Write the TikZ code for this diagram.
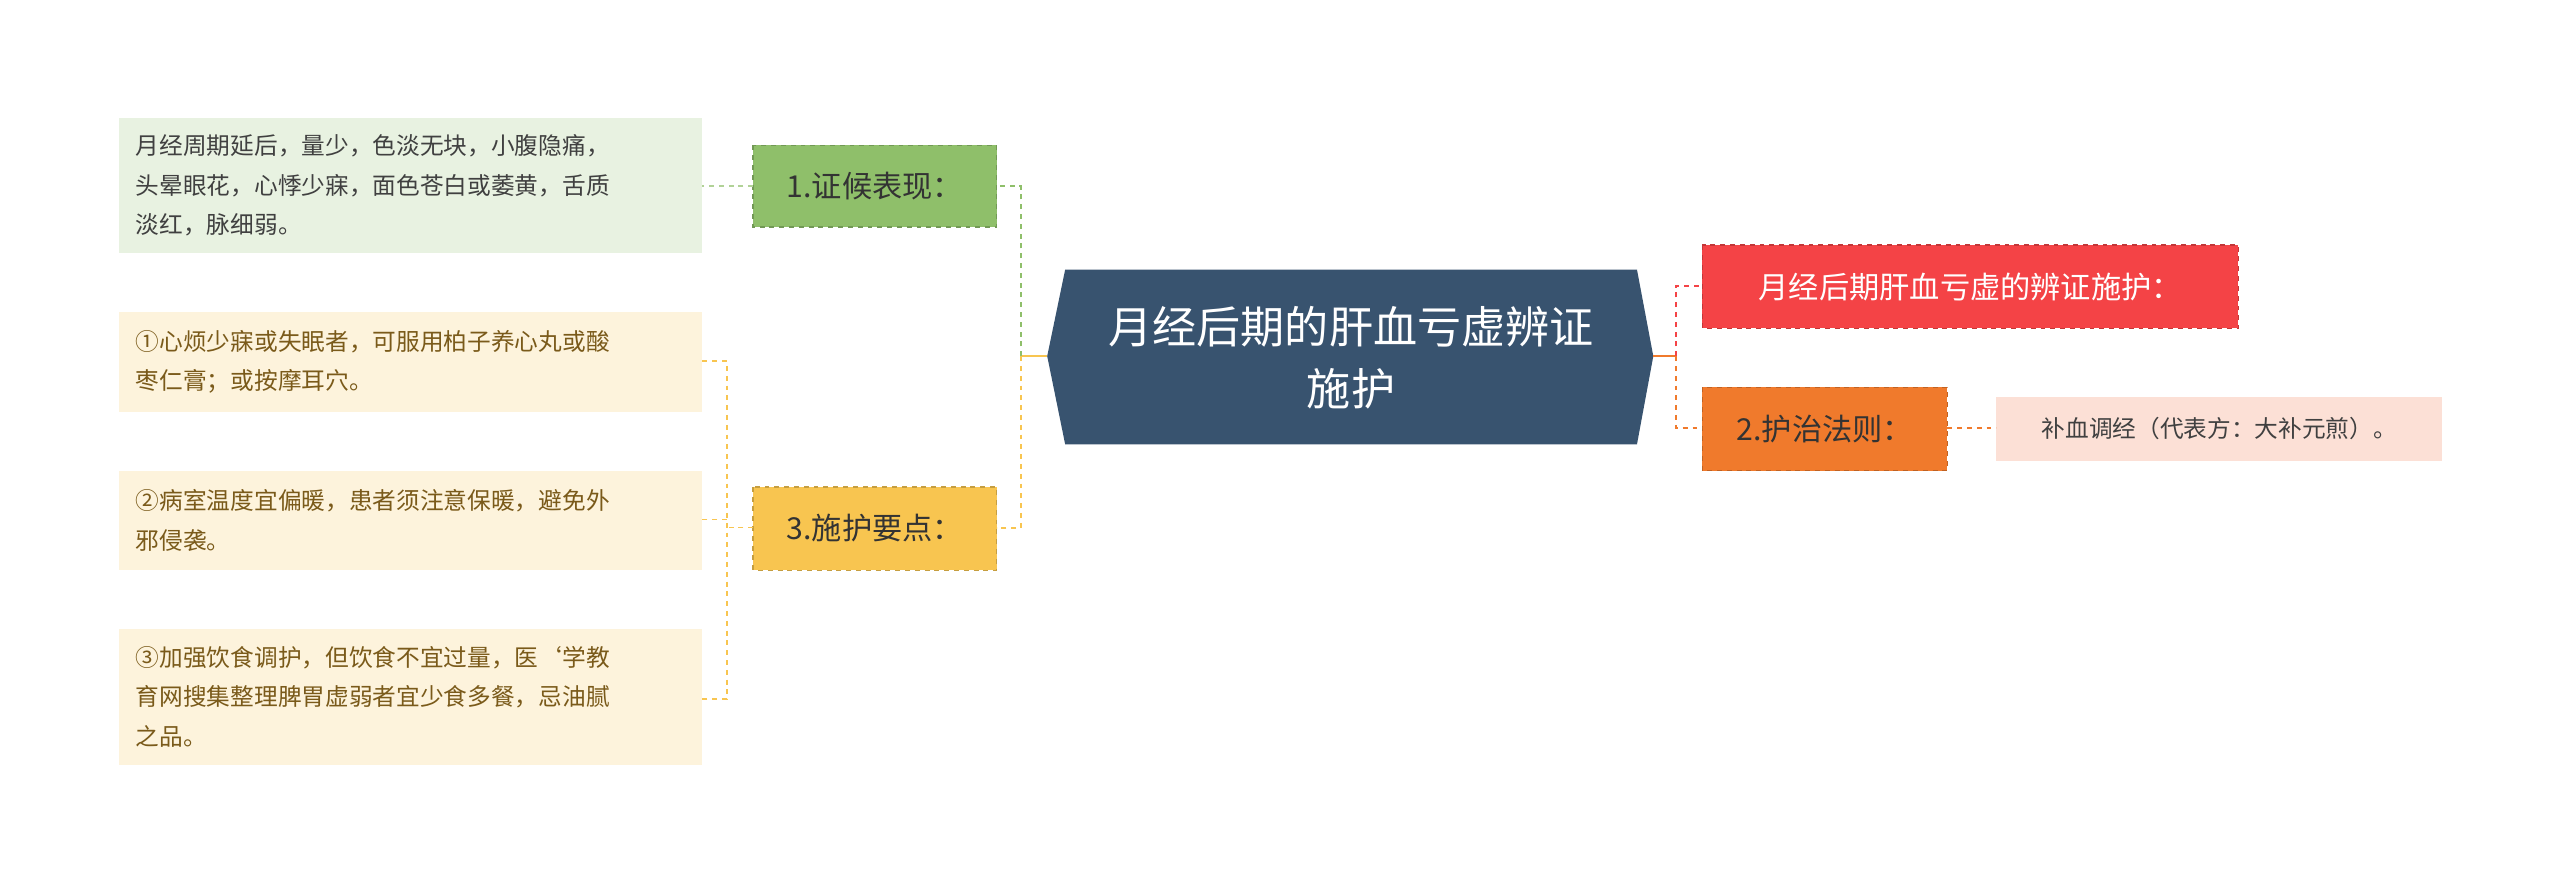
\documentclass[tikz,border=0pt]{standalone}
\usepackage{fontspec}
\setmainfont{Noto Sans CJK SC}
\begin{document}
\begin{tikzpicture}[x=1pt,y=-1pt,
 box/.style={draw,dashed,line width=0.8pt,anchor=north west,inner sep=0pt},
 lvl/.style={font=\fontsize{18.5}{22}\selectfont},
 leaf/.style={font=\fontsize{14.5}{24}\selectfont,align=left,anchor=west,inner sep=0pt},
 con/.style={dashed,line width=1.2pt}]
\useasboundingbox (0,0) rectangle (1567,541);
\definecolor{hex}{HTML}{38536F}
\definecolor{gn}{HTML}{8FBF6A}\definecolor{gnl}{HTML}{E8F2E1}
\definecolor{yl}{HTML}{F8C550}\definecolor{yll}{HTML}{FDF3DC}
\definecolor{rd}{HTML}{F44346}\definecolor{or}{HTML}{F07A2C}\definecolor{orl}{HTML}{FCE0D6}
\definecolor{br}{HTML}{7A5A1A}
% center
\fill[hex] (641,218) -- (652,165) -- (1002,165) -- (1012,218) -- (1002,272) -- (652,272) -- cycle;
\node[text=white,font=\fontsize{27}{38}\selectfont,align=center] (c) at (827,219) {月经后期的肝血亏虚辨证\\施护};
\coordinate (cl) at (641,218); \coordinate (cr) at (1012,218);
% level1
\fill[gn] (461,89) rectangle (610,139); \draw[box,gn!80!black] (461,89) rectangle (610,139);
\node[lvl,text=black!80] (a) at (535.5,114) {1.证候表现：};
\fill[yl] (461,298) rectangle (610,349); \draw[box,yl!80!black] (461,298) rectangle (610,349);
\node[lvl,text=black!80] (b) at (535.5,323.5) {3.施护要点：};
\fill[rd] (1042,150) rectangle (1370,201); \draw[box,rd!80!black] (1042,150) rectangle (1370,201);
\node[lvl,text=white] (r) at (1206,175.5) {月经后期肝血亏虚的辨证施护：};
\fill[or] (1042,237) rectangle (1192,288); \draw[box,or!80!black] (1042,237) rectangle (1192,288);
\node[lvl,text=black!80] (o) at (1117,262.5) {2.护治法则：};
% leaves
\fill[orl] (1222,243) rectangle (1495,282);
\node[font=\fontsize{14.5}{20}\selectfont,text=black!75] (ol) at (1358.5,262.5) {补血调经（代表方：大补元煎）。};
\fill[gnl] (73,72) rectangle (430,155);
\node[leaf,text=black!75] (al) at (83,113.5) {月经周期延后，量少，色淡无块，小腹隐痛，\\头晕眼花，心悸少寐，面色苍白或萎黄，舌质\\淡红，脉细弱。};
\fill[yll] (73,191) rectangle (430,252);
\node[leaf,text=br] (b1) at (83,221.5) {①心烦少寐或失眠者，可服用柏子养心丸或酸\\枣仁膏；或按摩耳穴。};
\fill[yll] (73,288) rectangle (430,349);
\node[leaf,text=br] (b2) at (83,318.5) {②病室温度宜偏暖，患者须注意保暖，避免外\\邪侵袭。};
\fill[yll] (73,385) rectangle (430,468);
\node[leaf,text=br] (b3) at (83,426.5) {③加强饮食调护，但饮食不宜过量，医`学教\\育网搜集整理脾胃虚弱者宜少食多餐，忌油腻\\之品。};
% connectors
\draw[line width=1.5pt,yl] (cl) -- (625,218);
\draw[con,gn] (625,218) -- (625,114) -- (610,114);
\draw[con,yl] (625,218) -- (625,323) -- (610,323);
\draw[con,gn!70] (461,114) -- (430,114);
\draw[con,yl,line width=0.9pt] (461,323) -- (445,323);
\draw[con,yl,line width=0.9pt] (430,221) -- (445,221) -- (445,428) -- (430,428);
\draw[con,yl,line width=0.9pt] (445,318) -- (430,318);
\draw[line width=1.5pt,or] (cr) -- (1026,218);
\draw[con,rd] (1026,218) -- (1026,175) -- (1042,175);
\draw[con,or] (1026,218) -- (1026,262) -- (1042,262);
\draw[con,or] (1192,262) -- (1222,262);
\end{tikzpicture}
\end{document}
